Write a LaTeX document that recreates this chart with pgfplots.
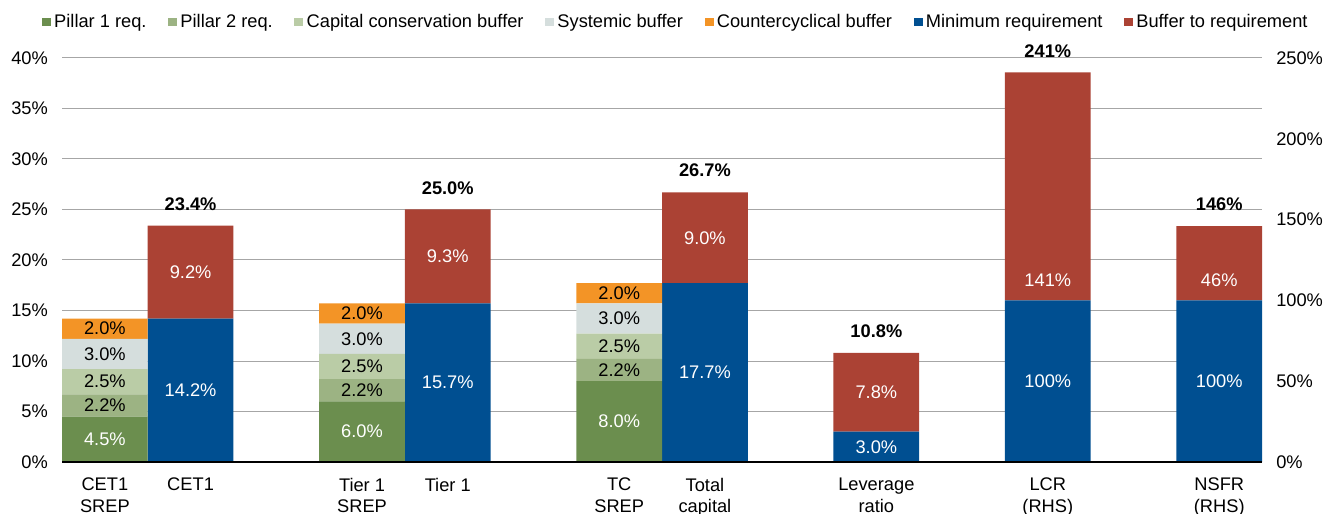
\documentclass[border=0pt]{standalone}
\usepackage{pgfplots}
\pgfplotsset{compat=1.18}
\usepackage{fontspec}
\setmainfont{Liberation Sans}
\definecolor{pone}{HTML}{6B8E4E}
\definecolor{ptwo}{HTML}{9CB383}
\definecolor{ccb}{HTML}{BACCA6}
\definecolor{sysb}{HTML}{D5DEDD}
\definecolor{ccyb}{HTML}{F39426}
\definecolor{minr}{HTML}{004F91}
\definecolor{bufr}{HTML}{AB4234}
\definecolor{gridgray}{HTML}{A6A6A6}
\newcommand{\fs}{\fontsize{11}{13.2}\selectfont}
\begin{document}
\begin{tikzpicture}[font=\fs]
\path[use as bounding box] (-37.35pt,-30.72pt) rectangle (762.6pt,278.3pt);
\begin{axis}[
  at={(0,0)}, anchor=south west,
  scale only axis, width=722.9pt, height=243.4pt,
  xmin=-0.5, xmax=13.5, ymin=0, ymax=40,
  ybar stacked, bar width=1,
  axis line style={draw=none},
  major tick length=0pt,
  ytick={0,5,...,40},
  yticklabels={0\%,5\%,10\%,15\%,20\%,25\%,30\%,35\%,40\%},
  xtick={0,1,3,4,6,7,9,11,13},
  xticklabels={CET1\\SREP, CET1, Tier 1\\SREP, Tier 1, TC\\SREP, Total\\capital, Leverage\\ratio, LCR\\(RHS), NSFR\\(RHS)},
  xticklabel style={align=center, font=\fs, yshift=-6pt},
  yticklabel style={font=\fs, xshift=-5pt},
  ymajorgrids, grid style={color=gridgray, line width=0.6pt},
  legend style={at={(0.512,1.089)}, anchor=center, draw=none, fill=none, legend columns=7, font=\fs,
    /tikz/every even column/.append style={column sep=11pt}},
  legend image code/.code={\fill[#1,draw=none] (0pt,-2.7pt) rectangle (5.4pt,2.7pt);},
]
\addplot[fill=pone, draw=none] coordinates {(0,4.5) (1,0) (3,6.0) (4,0) (6,8.0) (7,0) (9,0) (11,0) (13,0)};
\addlegendentry{Pillar 1 req.}
\addplot[fill=ptwo, draw=none] coordinates {(0,2.2) (1,0) (3,2.2) (4,0) (6,2.2) (7,0) (9,0) (11,0) (13,0)};
\addlegendentry{Pillar 2 req.}
\addplot[fill=ccb, draw=none] coordinates {(0,2.5) (1,0) (3,2.5) (4,0) (6,2.5) (7,0) (9,0) (11,0) (13,0)};
\addlegendentry{Capital conservation buffer}
\addplot[fill=sysb, draw=none] coordinates {(0,3.0) (1,0) (3,3.0) (4,0) (6,3.0) (7,0) (9,0) (11,0) (13,0)};
\addlegendentry{Systemic buffer}
\addplot[fill=ccyb, draw=none] coordinates {(0,2.0) (1,0) (3,2.0) (4,0) (6,2.0) (7,0) (9,0) (11,0) (13,0)};
\addlegendentry{Countercyclical buffer}
\addplot[fill=minr, draw=none] coordinates {(0,0) (1,14.2) (3,0) (4,15.7) (6,0) (7,17.7) (9,3.0) (11,16.0) (13,16.0)};
\addlegendentry{Minimum requirement}
\addplot[fill=bufr, draw=none] coordinates {(0,0) (1,9.2) (3,0) (4,9.3) (6,0) (7,9.0) (9,7.8) (11,22.56) (13,7.36)};
\addlegendentry{Buffer to requirement}
\end{axis}
\begin{axis}[
  at={(0,0)}, anchor=south west,
  scale only axis, width=722.9pt, height=243.4pt,
  xmin=-0.5, xmax=13.5, ymin=0, ymax=250,
  axis y line*=right, hide x axis, axis line style={draw=none}, major tick length=0pt,
  ytick={0,50,...,250}, yticklabels={0\%,50\%,100\%,150\%,200\%,250\%},
  yticklabel style={font=\fs, xshift=5pt},
]
\addplot[draw=none] coordinates {(0,0)};
\end{axis}
\begin{axis}[
  at={(0,0)}, anchor=south west,
  scale only axis, width=722.9pt, height=243.4pt,
  xmin=-0.5, xmax=13.5, ymin=0, ymax=40, clip=false,
  hide y axis, axis x line*=bottom, xtick=\empty,
  x axis line style={-, black, line width=1.2pt},
  point meta=explicit symbolic,
]
\addplot[draw=none, mark=none, nodes near coords,
  every node near coord/.append style={font=\fs, anchor=center, text=white}]
  coordinates {(0,2.25)[4.5\%] (3,3.0)[6.0\%] (6,4.0)[8.0\%]
  (1,7.1)[14.2\%] (4,7.85)[15.7\%] (7,8.85)[17.7\%] (9,1.5)[3.0\%] (11,8)[100\%] (13,8)[100\%]
  (1,18.8)[9.2\%] (4,20.35)[9.3\%] (7,22.2)[9.0\%] (9,6.9)[7.8\%] (11,18.0)[141\%] (13,18.0)[46\%]};
\addplot[draw=none, mark=none, nodes near coords,
  every node near coord/.append style={font=\fs, anchor=center, text=black}]
  coordinates {(0,5.6)[2.2\%] (3,7.1)[2.2\%] (6,9.1)[2.2\%]
  (0,7.95)[2.5\%] (3,9.45)[2.5\%] (6,11.45)[2.5\%]
  (0,10.7)[3.0\%] (3,12.2)[3.0\%] (6,14.2)[3.0\%]
  (0,13.2)[2.0\%] (3,14.7)[2.0\%] (6,16.7)[2.0\%]};
\addplot[draw=none, mark=none, nodes near coords,
  every node near coord/.append style={font=\fs\bfseries, anchor=base, yshift=9.3pt, text=black}]
  coordinates {(1,23.4)[23.4\%] (4,25.0)[25.0\%] (7,26.7)[26.7\%] (9,10.8)[10.8\%] (11,38.56)[241\%] (13,23.36)[146\%]};
\end{axis}
\end{tikzpicture}
\end{document}
